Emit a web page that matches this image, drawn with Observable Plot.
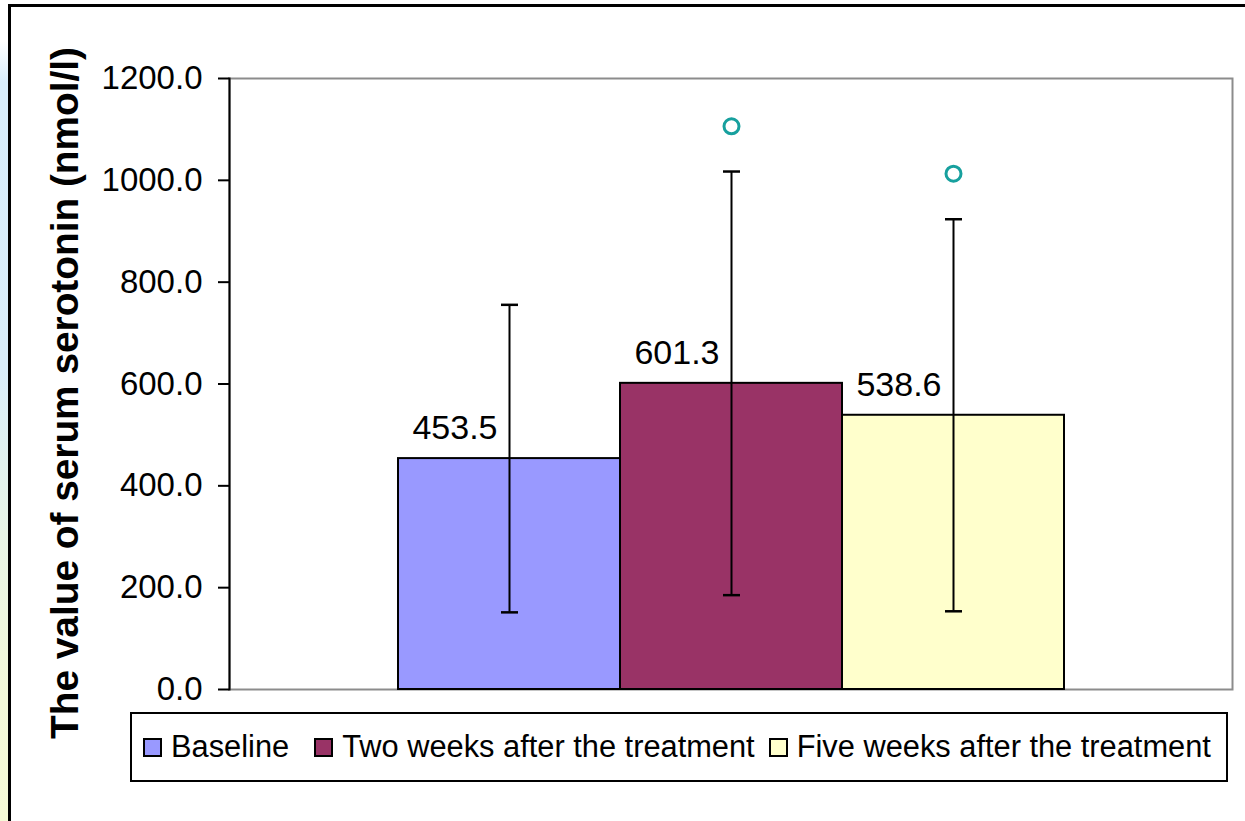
<!DOCTYPE html>
<html>
<head>
<meta charset="utf-8">
<script src="https://cdn.jsdelivr.net/npm/d3@7"></script>
<script src="https://cdn.jsdelivr.net/npm/@observablehq/plot@0.6"></script>
<style>
  html, body { margin: 0; padding: 0; background: white; }
  body { width: 1245px; height: 821px; position: relative; overflow: hidden; font-family: Arial, "Liberation Sans", sans-serif; }
  #strip { position: absolute; left: 0; top: 0; width: 9px; height: 821px;
    background: linear-gradient(to bottom, #ffffff 0%, #ffffff 5%, #d8edfb 10%, #daeefa 45%, #e8f5e6 65%, #f3f9d9 85%, #f5fad6 100%); }
  #frameTop { position: absolute; left: 8px; top: 4px; width: 1237px; height: 3px; background: black; }
  #frameLeft { position: absolute; left: 8px; top: 4px; width: 3px; height: 817px; background: black; }
  #chart { position: absolute; left: 0; top: 0; }
  #legend { position: absolute; left: 130px; top: 712px; width: 1094px; height: 66px; border: 2px solid black;
    box-sizing: content-box; display: flex; align-items: center; font-size: 30.8px; color: black; white-space: nowrap; }
  .item { display: flex; align-items: center; }
  .sw { width: 15px; height: 15px; border: 2px solid black; margin-right: 9px; }
</style>
</head>
<body>
<div id="strip"></div>
<div id="frameTop"></div>
<div id="frameLeft"></div>
<div id="chart"></div>
<div id="legend"></div>
<script>
const groups = ["Baseline", "Two weeks after the treatment", "Five weeks after the treatment"];
const means = [453.5, 601.3, 538.6];
const sds = [302, 416, 385];
const colors = ["#9999ff", "#993366", "#ffffcc"];
const outlierGroups = ["Two weeks after the treatment", "Five weeks after the treatment"];
const outlierValues = [1106, 1013];
const yTicks = [0, 200, 400, 600, 800, 1000, 1200];
const yTitle = "The value of serum serotonin (nmol/l)";

const data = groups.map((g, i) => ({group: g, value: means[i], sd: sds[i]}));
const caps = data.flatMap(d => [{group: d.group, y: d.value - d.sd}, {group: d.group, y: d.value + d.sd}]);
const outliers = outlierGroups.map((g, i) => ({group: g, value: outlierValues[i]}));

const capSymbol = {
  draw(context, size) {
    const w = Math.sqrt(size / Math.PI);
    context.moveTo(-w, 0);
    context.lineTo(w, 0);
  }
};

const plot = Plot.plot({
  width: 1245,
  height: 821,
  marginLeft: 229,
  marginRight: 13,
  marginTop: 78,
  marginBottom: 132,
  x: {domain: groups, paddingInner: 0, paddingOuter: 0.756, axis: null},
  y: {domain: [0, 1200]},
  color: {domain: groups, range: colors},
  style: {fontFamily: "Arial, 'Liberation Sans', sans-serif", fontSize: "33px", color: "black", background: "transparent", overflow: "visible"},
  marks: [
    Plot.frame({stroke: "#8c8c8c", strokeWidth: 2}),
    Plot.barY(data, {x: "group", y: "value", fill: "group", stroke: "black", strokeWidth: 2}),
    Plot.ruleX(data, {x: "group", y1: d => d.value - d.sd, y2: d => d.value + d.sd, stroke: "black", strokeWidth: 2}),
    Plot.dot(caps, {x: "group", y: "y", symbol: capSymbol, r: 8.5, stroke: "black", strokeWidth: 2.5, fill: "none"}),
    Plot.text(data, {x: "group", y: "value", text: d => d.value.toFixed(1), textAnchor: "end", dx: -12, dy: -30, fontSize: 34, fill: "black"}),
    Plot.dot(outliers, {x: "group", y: "value", r: 7.5, stroke: "#17a09e", strokeWidth: 3, fill: "white", style: "filter: drop-shadow(1px 2px 1px rgba(0,0,0,0.25))"}),
    Plot.axisY({ticks: yTicks, tickFormat: d => d.toFixed(1), tickSize: 11, tickPadding: 16, strokeWidth: 2, stroke: "black", fontSize: 33, label: null}),
    Plot.frame({anchor: "left", stroke: "black", strokeWidth: 2}),
    Plot.text([yTitle], {frameAnchor: "left", textAnchor: "middle", rotate: -90, dx: -164, dy: 9, fontSize: 38.8, fontWeight: "bold", fill: "black"})
  ]
});
document.getElementById("chart").appendChild(plot);

const legend = document.getElementById("legend");
const gaps = [11, 25, 14];
groups.forEach((g, i) => {
  const item = document.createElement("div");
  item.className = "item";
  item.style.marginLeft = gaps[i] + "px";
  const sw = document.createElement("div");
  sw.className = "sw";
  sw.style.background = colors[i];
  const label = document.createElement("span");
  label.textContent = g;
  item.appendChild(sw);
  item.appendChild(label);
  legend.appendChild(item);
});
</script>
</body>
</html>
